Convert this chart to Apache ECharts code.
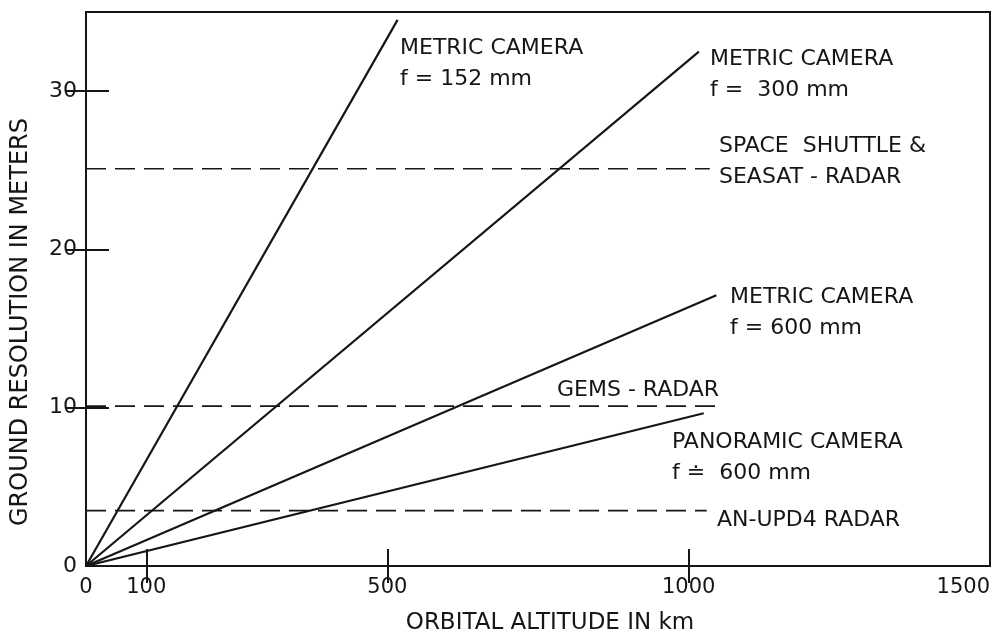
<!DOCTYPE html>
<html>
<head>
<meta charset="utf-8">
<script src="https://cdn.jsdelivr.net/npm/echarts@6/dist/echarts.min.js"></script>
<style>
  html, body { margin: 0; padding: 0; background: #fff; }
  #chart { width: 997px; height: 640px; }
</style>
</head>
<body>
<div id="chart"></div>
<script>
// axis ticks / labels
var xLabelValues = [0, 100, 500, 1000, 1500];
var xTickValues = [100, 500, 1000];
var yLabelValues = [0, 10, 20, 30];
var yTickValues = [10, 20, 30];

// camera lines (altitude km, resolution m)
var metric152 = [[0, 0], [517, 34.5]];
var metric300 = [[0, 0], [1017, 32.5]];
var metric600 = [[0, 0], [1046, 17.1]];
var panoramic = [[0, 0], [1025, 9.65]];

// radar levels (dashed)
var shuttleRadar = [[0, 25.1], [1035, 25.1]];
var gemsRadar = [[0, 10.1], [1046, 10.1]];
var anupd4Radar = [[0, 3.5], [1030, 3.5]];

var ink = '#161616';
var font = 'DejaVu Sans';

function solid(name, data) {
    return {
        name: name, type: 'line', data: data,
        symbol: 'none', silent: true,
        lineStyle: { color: ink, width: 2.2 }
    };
}
function dashed(name, data) {
    return {
        name: name, type: 'line', data: data,
        symbol: 'none', silent: true,
        lineStyle: { color: ink, width: 1.6, type: [20, 9] }
    };
}
function note(x, y, text) {
    return {
        type: 'text', x: x, y: y, silent: true,
        style: {
            text: text, fill: ink, fontFamily: font, fontSize: 22,
            lineHeight: 31, align: 'left', verticalAlign: 'top'
        }
    };
}
function plain(v) { return String(v); }

var chart = echarts.init(document.getElementById('chart'), null, { renderer: 'canvas' });

var option = {
    backgroundColor: '#fff',
    animation: false,
    grid: {
        left: 86, right: 7, top: 12, bottom: 74,
        outerBoundsMode: 'none', containLabel: false,
        show: true, borderColor: ink, borderWidth: 2
    },
    xAxis: [
        {
            type: 'value', min: 0, max: 1500, position: 'bottom',
            axisLine: { show: false },
            splitLine: { show: false },
            axisTick: { show: true, inside: true, length: 17, customValues: xTickValues,
                lineStyle: { color: ink, width: 2 } },
            axisLabel: { show: true, customValues: xLabelValues, margin: 11,
                formatter: plain, hideOverlap: false, alignMaxLabel: 'right',
                color: ink, fontFamily: font, fontSize: 21 }
        },
        {
            type: 'value', min: 0, max: 1500, position: 'top',
            axisLine: { show: false },
            splitLine: { show: false },
            axisTick: { show: true, inside: true, length: 17, customValues: xTickValues,
                lineStyle: { color: ink, width: 2 } },
            axisLabel: { show: false }
        }
    ],
    yAxis: [
        {
            type: 'value', min: 0, max: 35, position: 'left',
            axisLine: { show: false },
            splitLine: { show: false },
            axisTick: { show: true, inside: true, length: 23, customValues: yTickValues,
                lineStyle: { color: ink, width: 2 } },
            axisLabel: { show: true, customValues: yLabelValues, margin: 9,
                formatter: plain,
                color: ink, fontFamily: font, fontSize: 22 }
        },
        {
            type: 'value', min: 0, max: 35, position: 'right',
            axisLine: { show: false },
            splitLine: { show: false },
            axisTick: { show: true, inside: true, length: 20, customValues: yTickValues,
                lineStyle: { color: ink, width: 2 } },
            axisLabel: { show: false }
        }
    ],
    series: [
        solid('Metric camera f=152', metric152),
        solid('Metric camera f=300', metric300),
        solid('Metric camera f=600', metric600),
        solid('Panoramic camera f=600', panoramic),
        dashed('Space Shuttle & Seasat radar', shuttleRadar),
        dashed('GEMS radar', gemsRadar),
        dashed('AN-UPD4 radar', anupd4Radar)
    ],
    graphic: [
        {
            type: 'text', x: 21, y: 322, rotation: Math.PI / 2, silent: true,
            style: { text: 'GROUND RESOLUTION IN METERS', fill: ink, fontFamily: font,
                fontSize: 24, align: 'center', verticalAlign: 'middle' }
        },
        {
            type: 'text', x: 550, y: 623, silent: true,
            style: { text: 'ORBITAL ALTITUDE IN km', fill: ink, fontFamily: font,
                fontSize: 23, align: 'center', verticalAlign: 'middle' }
        },
        note(400, 33, 'METRIC CAMERA\nf = 152 mm'),
        note(710, 44, 'METRIC CAMERA\nf =  300 mm'),
        note(719, 131, 'SPACE  SHUTTLE &\nSEASAT - RADAR'),
        note(730, 282, 'METRIC CAMERA\nf = 600 mm'),
        note(557, 375, 'GEMS - RADAR'),
        note(672, 427, 'PANORAMIC CAMERA\nf \u2250  600 mm'),
        note(717, 505, 'AN-UPD4 RADAR')
    ]
};

chart.setOption(option);
</script>
</body>
</html>
